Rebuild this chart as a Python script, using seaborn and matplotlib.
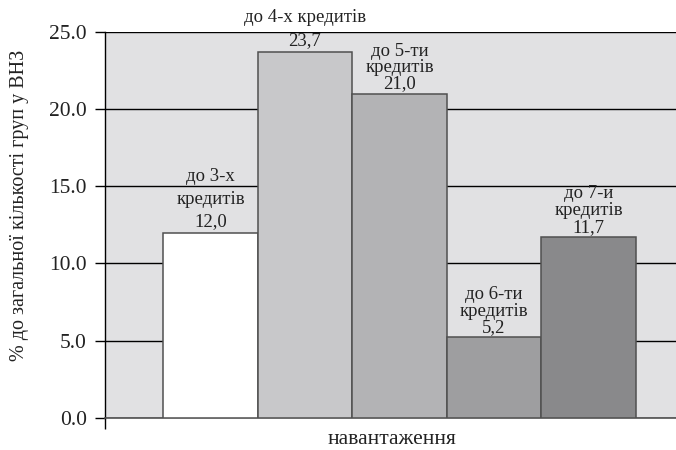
import matplotlib
matplotlib.use("Agg")
import matplotlib.pyplot as plt
from matplotlib.ticker import FormatStrFormatter
import seaborn as sns
import pandas as pd

categories = ["до 3-х\nкредитів", "до 4-х кредитів", "до 5-ти\nкредитів",
              "до 6-ти\nкредитів", "до 7-и\nкредитів"]
values = [12.0, 23.7, 21.0, 5.2, 11.7]
bar_colors = ["#ffffff", "#c8c8ca", "#b3b3b5", "#9e9ea0", "#89898b"]
y_ticks = [0.0, 5.0, 10.0, 15.0, 20.0, 25.0]
x_title = "навантаження"
y_title = "% до загальної кількості груп у ВНЗ"

sns.set_theme(style="white")
plt.rcParams["font.family"] = ["Liberation Serif", "DejaVu Serif"]

df = pd.DataFrame({"cat": categories, "val": values})

fig = plt.figure(figsize=(6.76, 4.5), dpi=100)
W, H = 676, 450
ax = fig.add_axes([105 / W, 32.3 / H, 589 / W, 385.7 / H])
ax.set_facecolor("#e1e1e3")

sns.barplot(data=df, x="cat", y="val", hue="cat", palette=bar_colors,
            legend=False, width=1.0, edgecolor="#505050", linewidth=1.1,
            ax=ax, zorder=3)

ax.set_xlim(-1.116, 5.116)
ax.set_ylim(0, 25)
ax.set_yticks(y_ticks)
ax.yaxis.set_major_formatter(FormatStrFormatter("%.1f"))
ax.yaxis.grid(True, color="black", linewidth=1.0, zorder=0)
ax.set_axisbelow(True)
ax.tick_params(axis="y", direction="out", length=7, width=1, color="black",
               labelsize=15.5, pad=6, left=True, labelcolor="#222222")
ax.set_xticks([-1.116])
ax.set_xticklabels([""])
ax.tick_params(axis="x", direction="out", length=8, width=1, color="black",
               bottom=True)
ax.set_xlabel("")
ax.set_ylabel("")

for side in ["top", "right"]:
    ax.spines[side].set_visible(False)
ax.spines["left"].set_color("black")
ax.spines["left"].set_linewidth(1.0)
ax.spines["bottom"].set_color("#505050")
ax.spines["bottom"].set_linewidth(1.2)

# annotation settings for each bar: vertical offset (points) and line spacing
offsets = [2, 2, 1, 1, 1]
spacings = [1.4, 1.5, 0.95, 0.95, 1.0]
for i, (cat, v) in enumerate(zip(categories, values)):
    txt = f"{cat}\n{v:.1f}".replace(".", ",")
    ax.annotate(txt, xy=(i, v), xytext=(0, offsets[i]),
                textcoords="offset points", ha="center", va="bottom",
                fontsize=13.5, linespacing=spacings[i], color="#222222",
                annotation_clip=False, zorder=5)

fig.text(392 / W, 1 - 440 / H, x_title, ha="center", va="center",
         fontsize=15.5, color="#222222")
fig.text(20 / W, 1 - 205 / H, y_title, ha="center", va="center",
         rotation=90, fontsize=14.5, color="#222222")

fig.savefig("out.png", dpi=100)
